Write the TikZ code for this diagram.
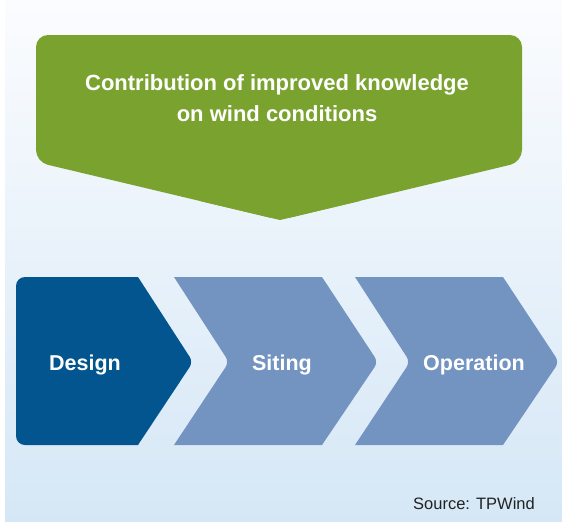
\documentclass[tikz,border=0pt]{standalone}
\usepackage{fontspec}
\setmainfont{Liberation Sans}
\definecolor{bgtop}{HTML}{FBFCFE}
\definecolor{bgbot}{HTML}{D5E7F6}
\definecolor{leafgreen}{HTML}{7AA22F}
\definecolor{darkblue}{HTML}{02558F}
\definecolor{lightblue}{HTML}{7393C0}
\definecolor{srcgray}{HTML}{222222}
\tikzset{
  lbl/.style={text=white, font=\fontsize{21.5}{24}\selectfont\bfseries, inner sep=0pt},
  ttl/.style={text=white, font=\fontsize{22}{31}\selectfont\bfseries, inner sep=0pt, align=center},
  chev/.style={fill=lightblue, draw=none},
}
\begin{document}
\begin{tikzpicture}[x=1pt,y=-1pt]
\useasboundingbox (0,0) rectangle (562,522);
\shade[top color=bgtop, bottom color=bgbot] (5,0) rectangle (562,521);
% green arrow box
\fill[leafgreen, rounded corners=12] (280,220) -- (36,162) -- (36,35) -- (522,35) -- (522,162) -- cycle;
\fill[leafgreen] (280,220) -- (200,201) -- (360,201) -- cycle;
\node[ttl] (title) at (277,98) {Contribution of improved knowledge\\on wind conditions};
% chevrons
\fill[darkblue] (138,277) -- (100,277) [rounded corners=9] -- (16,277) -- (16,445) [sharp corners] -- (100,445) -- (138,445) [rounded corners=6] -- (193,362) [sharp corners] -- cycle;
\fill[chev] (174,277) -- (322,277) [rounded corners=6] -- (378,362) [sharp corners] -- (322,445) -- (174,445) [rounded corners=6] -- (229,362) [sharp corners] -- cycle;
\fill[chev] (355,277) -- (503,277) [rounded corners=6] -- (559,362) [sharp corners] -- (503,445) -- (355,445) [rounded corners=6] -- (410,362) [sharp corners] -- cycle;
\node[lbl] (design) at (85,365) {Design};
\node[lbl] (siting) at (282,365) {Siting};
\node[lbl] (operation) at (474,365) {Operation};
\node[text=srcgray, font=\fontsize{16.5}{18}\selectfont, inner sep=0pt] (source) at (474,504) {Source: TPWind};
\end{tikzpicture}
\end{document}
